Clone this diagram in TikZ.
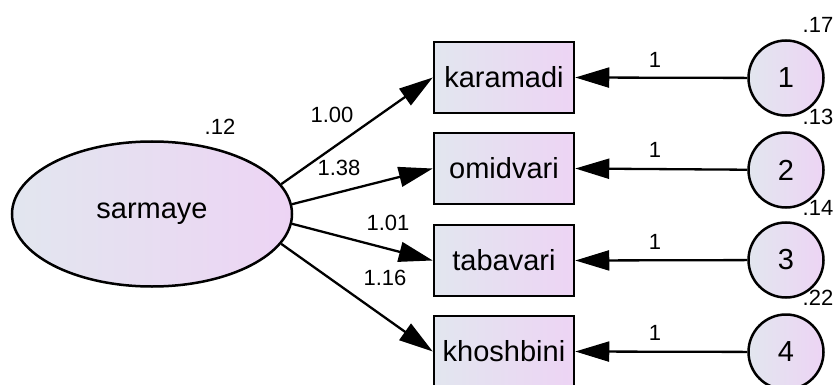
\documentclass[tikz,border=0pt]{standalone}
\usepackage{fontspec}
\setmainfont{Liberation Sans}
\usetikzlibrary{arrows.meta,shapes.geometric}
\definecolor{fillL}{HTML}{E2E6EF}
\definecolor{fillR}{HTML}{EDD4F4}
\tikzset{
  varshade/.style={draw=black, line width=2.5pt, left color=fillL, right color=fillR, inner sep=0pt},
  latent/.style={varshade, ellipse, minimum width=280pt, minimum height=145pt, font=\fontsize{29}{31}\selectfont},
  obsbox/.style={varshade, rectangle, minimum width=140pt, minimum height=71pt, font=\fontsize{29}{31}\selectfont},
  errc/.style={varshade, circle, minimum size=75pt, font=\fontsize{29}{31}\selectfont},
  lbl/.style={inner sep=0pt, font=\fontsize{22}{24}\selectfont},
  path/.style={draw=black, line width=2.3pt, -{Triangle[length=34pt,width=20pt]}}
}
\begin{document}
\begin{tikzpicture}[x=1pt,y=-1pt]
\useasboundingbox (0,0) rectangle (835,385);
\node[latent] (e) at (152,214) {sarmaye};
\node[obsbox] (b1) at (504,77.5) {karamadi};
\node[obsbox] (b2) at (504,168.5) {omidvari};
\node[obsbox] (b3) at (504,260.5) {tabavari};
\node[obsbox] (b4) at (504,351.5) {khoshbini};
\node[errc] (c1) at (786,78) {1};
\node[errc] (c2) at (786,170) {2};
\node[errc] (c3) at (786,260) {3};
\node[errc] (c4) at (786,352) {4};
\draw[path] (e.13) -- (b1.west);
\draw[path] (e.4.5) -- (b2.west);
\draw[path] (e.-4.5) -- (b3.west);
\draw[path] (e.-13) -- (b4.west);
\draw[path] (c1) -- (b1.east);
\draw[path] (c2) -- (b2.east);
\draw[path] (c3) -- (b3.east);
\draw[path] (c4) -- (b4.east);
\node[lbl] (v0) at (220,127) {.12};
\node[lbl] (l1) at (332,115) {1.00};
\node[lbl] (l2) at (339,168) {1.38};
\node[lbl] (l3) at (388,223) {1.01};
\node[lbl] (l4) at (385,278) {1.16};
\node[lbl] (r1) at (655,60) {1};
\node[lbl] (r2) at (655,150) {1};
\node[lbl] (r3) at (655,242) {1};
\node[lbl] (r4) at (655,333) {1};
\node[lbl] (v1) at (818,25) {.17};
\node[lbl] (v2) at (818,117) {.13};
\node[lbl] (v3) at (818,208) {.14};
\node[lbl] (v4) at (818,298) {.22};
\end{tikzpicture}
\end{document}
